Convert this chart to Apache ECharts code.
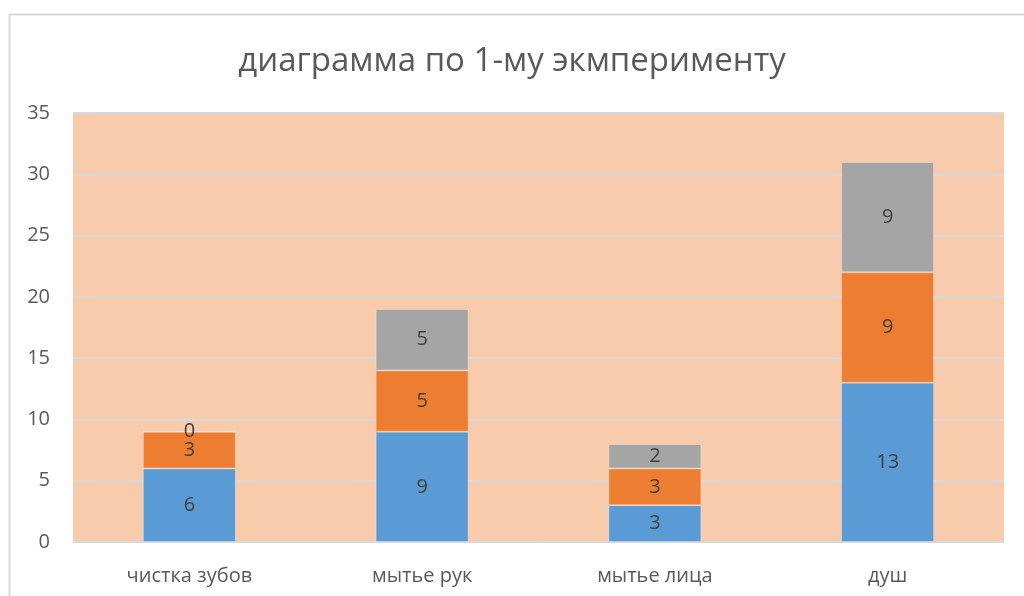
<!DOCTYPE html>
<html><head><meta charset="utf-8">
<script src="https://cdn.jsdelivr.net/npm/echarts@6/dist/echarts.min.js"></script>
<style>html,body{margin:0;padding:0;background:#fff}#c{width:1024px;height:596px}</style>
</head><body><div id="c"></div>
<script>
const categories = ['чистка зубов', 'мытье рук', 'мытье лица', 'душ'];
const series1 = [6, 9, 3, 13];
const series2 = [3, 5, 3, 9];
const series3 = [0, 5, 2, 9];
const seriesNames = ['Ряд1', 'Ряд2', 'Ряд3'];
const colors = ['#5B9BD5', '#ED7D31', '#A5A5A5'];
const titleText = 'диаграмма по 1-му экмперименту';

const font = 'Open Sans, Noto Sans, sans-serif';
const chart = echarts.init(document.getElementById('c'));
const mk = (name, data, color) => ({
  name, type: 'bar', stack: 's', data, barWidth: 93,
  itemStyle: { color, borderColor: 'rgba(255,255,255,0.3)', borderWidth: 1 },
  label: { show: true, position: 'inside', color: '#404040', fontSize: 20, fontFamily: font }
});
chart.setOption({
  animation: false,
  graphic: [{ type: 'rect', shape: { x: 9.5, y: 14.5, width: 1100, height: 700 }, style: { fill: 'none', stroke: '#D9D9D9', lineWidth: 2 }, z: -1 }],
  title: { text: titleText, left: 'center', top: 40, textStyle: { fontSize: 33, fontWeight: 'normal', color: '#595959', fontFamily: font } },
  grid: { left: 73, right: 20, top: 113, bottom: 54, backgroundColor: '#F8CBAD', show: true, borderWidth: 0 },
  xAxis: { type: 'category', data: categories,
    axisLine: { lineStyle: { color: '#D9D9D9', width: 1 } }, axisTick: { show: false },
    axisLabel: { color: '#595959', fontSize: 20, fontFamily: font, margin: 24 } },
  yAxis: { type: 'value', min: 0, max: 35, interval: 5,
    splitLine: { lineStyle: { color: '#D9D9D9', width: 2 } },
    axisLabel: { color: '#595959', fontSize: 20, fontFamily: font, margin: 23 } },
  series: [mk(seriesNames[0], series1, colors[0]), mk(seriesNames[1], series2, colors[1]), mk(seriesNames[2], series3, colors[2])]
});
</script></body></html>
